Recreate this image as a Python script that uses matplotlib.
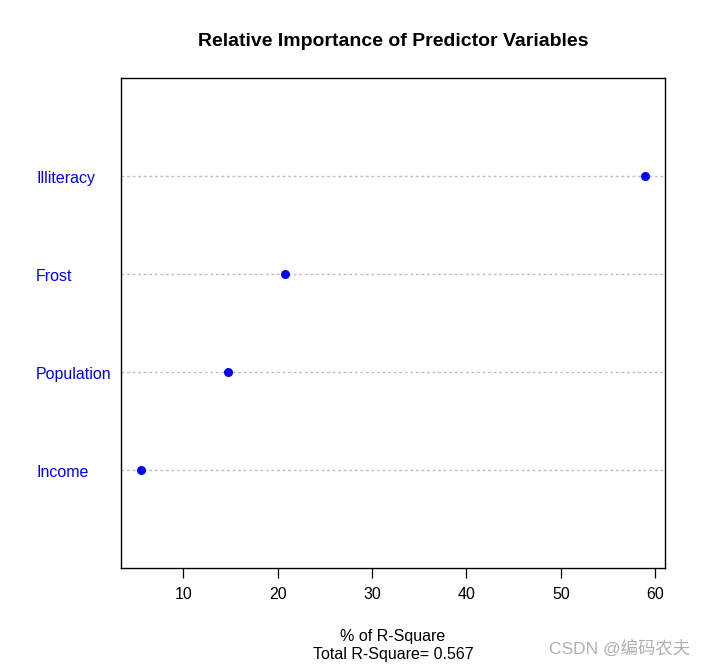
import matplotlib.pyplot as plt

# data
variables = ["Income", "Population", "Frost", "Illiteracy"]
importance = [5.55, 14.8, 20.8, 58.9]
total_r2 = 0.567
xticks = [10, 20, 30, 40, 50, 60]

plt.rcParams["font.family"] = ["Liberation Sans", "Noto Sans CJK SC", "DejaVu Sans"]

fig = plt.figure(figsize=(7.05, 6.66), dpi=100)
ax = fig.add_axes([121 / 705, 98 / 666, 544 / 705, 490 / 666])

ypos = list(range(1, len(variables) + 1))
for y in ypos:
    ax.axhline(y, color="#bebebe", linestyle=(0, (2, 2)), linewidth=1.0, zorder=1)
ax.scatter(importance, ypos, color="blue", s=30, zorder=3)

span = max(importance) - min(importance)
ax.set_xlim(min(importance) - 0.04 * span, max(importance) + 0.04 * span)
ax.set_ylim(0, len(variables) + 1)

ax.set_xticks(xticks)
ax.set_xticklabels([str(t) for t in xticks], fontsize=11.5)
ax.tick_params(axis="x", length=7, pad=7, width=0.9)
ax.set_yticks([])
for s in ax.spines.values():
    s.set_linewidth(1.0)

# labels on the left, in blue
for y, name in zip(ypos, variables):
    ypix = ax.transData.transform((0, y))[1] - 2.5
    ax.text(36 / 705, ypix / fig.dpi / 6.66, name,
            transform=fig.transFigure, color="blue", fontsize=11.5,
            ha="left", va="center")

xc = 0.5 * (121 + 665) / 705
fig.text(xc, 1 - 41 / 666, "Relative Importance of Predictor Variables",
         ha="center", va="center", fontsize=14, fontweight="bold")
fig.text(xc, 1 - 636 / 666, "% of R-Square",
         ha="center", va="center", fontsize=11.5)
fig.text(xc, 1 - 655 / 666, "Total R-Square= " + str(total_r2),
         ha="center", va="center", fontsize=11.5)

fig.text(690 / 705, 1 - 648 / 666, "CSDN @编码农夫", ha="right", va="center",
         fontsize=12.5, color="#b0b0b0")

fig.savefig("out.png", dpi=100)
